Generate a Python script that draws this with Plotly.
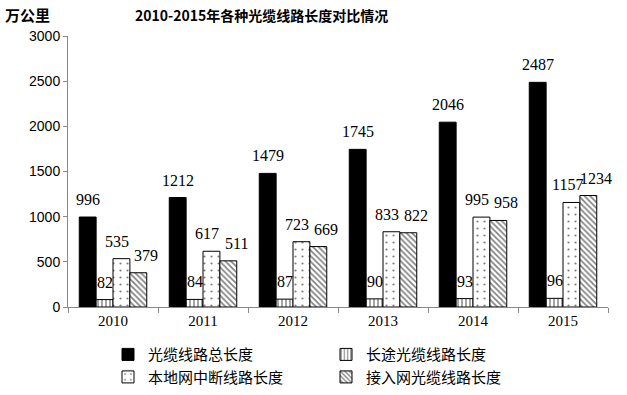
import plotly.graph_objects as go

years = ["2010", "2011", "2012", "2013", "2014", "2015"]
series_names = ["光缆线路总长度", "长途光缆线路长度", "本地网中断线路长度", "接入网光缆线路长度"]
total = [996, 1212, 1479, 1745, 2046, 2487]
long_distance = [82, 84, 87, 90, 93, 96]
local_relay = [535, 617, 723, 833, 995, 1157]
access = [379, 511, 669, 822, 958, 1234]
y_ticks = [0, 500, 1000, 1500, 2000, 2500, 3000]

values = [total, long_distance, local_relay, access]
patterns = [None, dict(shape="|", size=4, solidity=0.35, fgcolor="black", bgcolor="white"),
            dict(shape=".", size=7, solidity=0.08, fgcolor="black", bgcolor="white"),
            dict(shape="\\", size=4, solidity=0.4, fgcolor="black", bgcolor="white")]
label_nudge = [0, 0, -4, 8]  # horizontal label nudges (px) per series, to avoid collisions

NUMFONT = "Liberation Serif"
CJK = "Noto Sans CJK SC"

W, H = 627, 395
ML, MR, MT, MB = 68, 19, 36, 88
BARGAP = 0.25
plot_w = W - ML - MR
cat_px = plot_w / len(years)
bar_px = cat_px * (1 - BARGAP) / len(values)

fig = go.Figure()
for name, vals, pat in zip(series_names, values, patterns):
    marker = dict(color="black" if pat is None else "white",
                  line=dict(color="black", width=1))
    if pat is not None:
        marker["pattern"] = pat
    fig.add_trace(go.Bar(x=years, y=vals, name=name, marker=marker, cliponaxis=False))

# data labels above each bar (x given as category index on the category axis)
n = len(values)
for i, vals in enumerate(values):
    for j, v in enumerate(vals):
        fig.add_annotation(x=j, y=v, text=str(v), showarrow=False,
                           xshift=(i - (n - 1) / 2) * bar_px + label_nudge[i], yshift=7,
                           xanchor="center", yanchor="bottom",
                           font=dict(family=NUMFONT, size=16, color="black"))

fig.update_layout(
    width=W, height=H,
    margin=dict(l=ML, r=MR, t=MT, b=MB, autoexpand=False),
    paper_bgcolor="white", plot_bgcolor="white",
    barmode="group", bargap=BARGAP, bargroupgap=0,
    showlegend=True,
    legend=dict(orientation="h", x=(108 - 68) / plot_w, xanchor="left", y=-0.115, yanchor="top",
                entrywidth=173, entrywidthmode="pixels",
                font=dict(family=CJK, size=15, color="black"),
                itemwidth=30, tracegroupgap=0, traceorder="normal"),
    font=dict(family=CJK, color="black"),
)
fig.update_yaxes(range=[0, 3000], tickvals=y_ticks, showgrid=False, zeroline=False,
                 showline=True, linecolor="#888888", linewidth=1,
                 ticks="outside", ticklen=4, tickcolor="#888888",
                 tickfont=dict(family="Liberation Sans", size=14, color="black"))
fig.update_xaxes(type="category", categoryorder="array", categoryarray=years,
                 range=[-0.5, len(years) - 0.5],
                 showgrid=False, showline=True, linecolor="#888888", linewidth=1,
                 ticks="outside", ticklen=5, tickcolor="#888888", tickson="boundaries",
                 tickfont=dict(family=NUMFONT, size=15, color="black"))

fig.add_annotation(text="<b>2010-2015年各种光缆线路长度对比情况</b>", xref="paper", yref="paper",
                   x=(261 - 68) / plot_w, y=1 + (36 - 15) / 271, xanchor="center", yanchor="middle",
                   showarrow=False, font=dict(family=CJK, size=14, color="black"))
fig.add_annotation(text="<b>万公里</b>", xref="paper", yref="paper",
                   x=(3 - 68) / plot_w, y=1 + (36 - 15) / 271, xanchor="left", yanchor="middle",
                   showarrow=False, font=dict(family=CJK, size=15, color="black"))

fig.write_html("out.html", config={"displayModeBar": False},
               post_script="document.body.style.margin='0';")
